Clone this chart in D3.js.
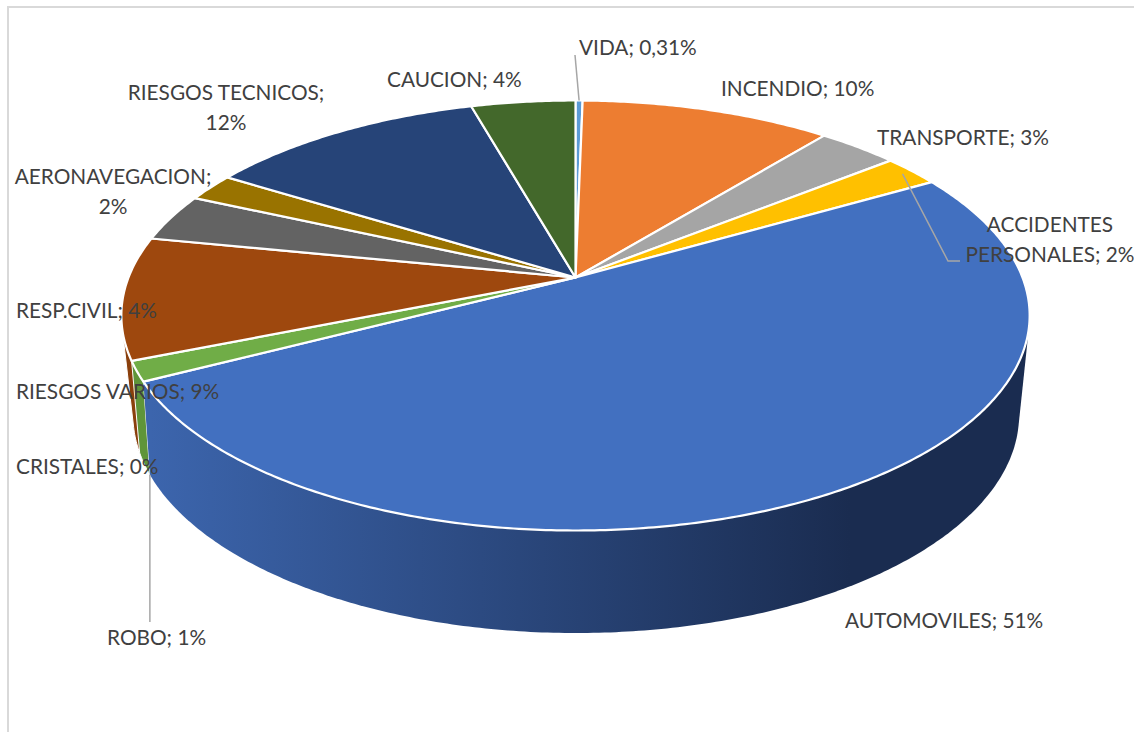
<!DOCTYPE html>
<html>
<head>
<meta charset="utf-8">
<script src="https://cdn.jsdelivr.net/npm/d3@7"></script>
<style>
  html, body { margin: 0; padding: 0; background: #fff; }
  svg { display: block; }
  text { font-family: Lato, "Open Sans", sans-serif; font-size: 20.8px; fill: #404040; }
</style>
</head>
<body>
<div id="chart"></div>
<script>
const categories = ["VIDA", "INCENDIO", "TRANSPORTE", "ACCIDENTES PERSONALES", "AUTOMOVILES", "ROBO", "CRISTALES", "RIESGOS VARIOS", "RESP.CIVIL", "AERONAVEGACION", "RIESGOS TECNICOS", "CAUCION"];
const sliceShares = [0.3, 10.6, 3.4, 2.4, 50.7, 1.5, 0, 9.2, 3.6, 2.1, 11.8, 4.4];
const printedLabels = ["0,31%", "10%", "3%", "2%", "51%", "1%", "0%", "9%", "4%", "2%", "12%", "4%"];
const sliceColors = ["#5b9bd5", "#ed7d31", "#a5a5a5", "#ffc000", "#4270c0", "#70ad47", "#264478", "#9e480e", "#636363", "#997300", "#264478", "#43682b"];

const width = 1134, height = 732;

// where each label goes: x, baseline y, anchor, and the lines it breaks into
const labelLayout = [
  { x: 579, y: 55, anchor: "start" },
  { x: 721, y: 96, anchor: "start" },
  { x: 877, y: 145, anchor: "start" },
  { x: 1050, y: 232, anchor: "middle", breakAfter: "ACCIDENTES" },
  { x: 845, y: 628, anchor: "start" },
  { x: 107, y: 645, anchor: "start" },
  { x: 16, y: 474, anchor: "start" },
  { x: 16, y: 399, anchor: "start" },
  { x: 16, y: 318, anchor: "start" },
  { x: 113, y: 184, anchor: "middle", breakAfter: "AERONAVEGACION;" },
  { x: 226, y: 100, anchor: "middle", breakAfter: "RIESGOS TECNICOS;" },
  { x: 387, y: 87, anchor: "start" }
];
const lineGap = 30;

// perspective of the pie: the apex sits above the ellipse centre
const topFace = {
  tilt: 0.1767,
  turn: 0,
  x: d3.scaleLinear().domain([-1, 1]).range([575.5 - 447, 575.5 + 447]),
  y: d3.scaleLinear().domain([-1, 1]).range([277.5 - 208.3, 277.5 + 208.3])
};
const bottomFace = {
  tilt: 0.25,
  turn: -0.035,
  x: d3.scaleLinear().domain([-1, 1]).range([576 - 429, 576 + 429]),
  y: d3.scaleLinear().domain([-1, 1]).range([360.5 - 204.4, 360.5 + 204.4])
};

function project(face, angle, r) {
  const u = r * Math.sin(angle + face.turn), v = -r * Math.cos(angle + face.turn);
  const w = 1 - face.tilt * v;
  return [face.x(u / w), face.y(v / w)];
}

function rim(face, a0, a1) {
  const n = Math.max(2, Math.ceil((a1 - a0) / 0.01));
  return d3.range(n + 1).map(i => project(face, a0 + (a1 - a0) * i / n, 1));
}

const arcs = d3.pie().sort(null).value(d => d.share)(
  categories.map((name, i) => ({ name, share: sliceShares[i], color: sliceColors[i], printed: printedLabels[i], layout: labelLayout[i] }))
);

const svg = d3.select("#chart").append("svg")
  .attr("width", width)
  .attr("height", height);

const defs = svg.append("defs");
const sideGradient = defs.append("linearGradient")
  .attr("id", "side-blue")
  .attr("gradientUnits", "userSpaceOnUse")
  .attr("x1", 150).attr("x2", 850).attr("y1", 0).attr("y2", 0);
sideGradient.append("stop").attr("offset", 0).attr("stop-color", "#3c65ad");
sideGradient.append("stop").attr("offset", 1).attr("stop-color", "#1a2c50");

// chart area border, only top and left show
svg.append("path")
  .attr("d", `M8,${height}V7H${width}`)
  .attr("fill", "none")
  .attr("stroke", "#d9d9d9")
  .attr("stroke-width", 2);

const line = d3.line();
const sideFill = { "AUTOMOVILES": "url(#side-blue)", "ROBO": "#5f9539", "RIESGOS VARIOS": "#8a3f0c" };

// back side walls first, the top face covers what should not show
// hull gives the straight tangent edge between top and bottom rim
svg.selectAll(".side")
  .data(arcs.filter(d => sideFill[d.data.name]).reverse())
  .enter()
  .append("path")
  .attr("class", "side")
  .attr("d", d => line(d3.polygonHull(rim(topFace, d.startAngle, d.endAngle).concat(rim(bottomFace, d.startAngle, d.endAngle)))) + "Z")
  .attr("fill", d => sideFill[d.data.name])
  .attr("stroke", d => d.data.name === "AUTOMOVILES" ? "none" : "#fff")
  .attr("stroke-width", 1);

svg.selectAll(".slice")
  .data(arcs.filter(d => d.data.share > 0))
  .enter()
  .append("path")
  .attr("class", "slice")
  .attr("d", d => line([project(topFace, 0, 0)].concat(rim(topFace, d.startAngle, d.endAngle))) + "Z")
  .attr("fill", d => d.data.color)
  .attr("stroke", "#fff")
  .attr("stroke-width", 2.2)
  .attr("stroke-linejoin", "round");

// leader lines start on their slice, then run to the label
const byName = name => arcs.find(d => d.data.name === name);
const midAngle = d => (d.startAngle + d.endAngle) / 2;
const robo = project(bottomFace, byName("ROBO").startAngle, 1);
const leaders = [
  [project(topFace, midAngle(byName("VIDA")), 1), [575, 55]],
  [project(topFace, midAngle(byName("ACCIDENTES PERSONALES")), 0.97), [948, 261], [960, 261]],
  [robo, [robo[0], 622]]
];
svg.selectAll(".leader")
  .data(leaders)
  .enter()
  .append("path")
  .attr("class", "leader")
  .attr("d", d => line(d))
  .attr("fill", "none")
  .attr("stroke", "#a6a6a6")
  .attr("stroke-width", 1.5);

const labels = svg.selectAll(".label")
  .data(arcs)
  .enter()
  .append("text")
  .attr("class", "label")
  .attr("text-anchor", d => d.data.layout.anchor)
  .attr("x", d => d.data.layout.x)
  .attr("y", d => d.data.layout.y);

labels.each(function(d) {
  const full = d.data.name + "; " + d.data.printed;
  const cut = d.data.layout.breakAfter;
  const parts = cut ? [cut, full.slice(cut.length).trim()] : [full];
  d3.select(this).selectAll("tspan")
    .data(parts)
    .enter()
    .append("tspan")
    .attr("x", d.data.layout.x)
    .attr("dy", (p, i) => i ? lineGap : 0)
    .text(p => p);
});
</script>
</body>
</html>
